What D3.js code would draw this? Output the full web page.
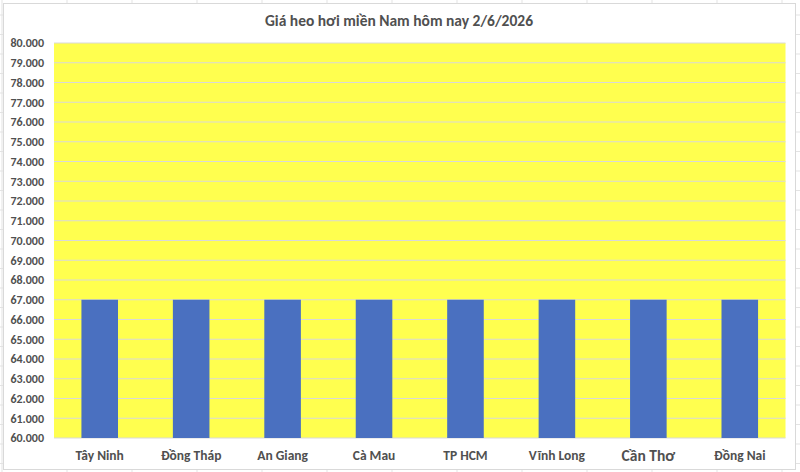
<!DOCTYPE html>
<html><head><meta charset="utf-8">
<script src="https://cdn.jsdelivr.net/npm/d3@7"></script>
<style>body{margin:0;background:#fff}svg{display:block}</style>
</head><body>
<svg id="c" width="800" height="472"></svg>
<script>
const title = "Giá heo hơi miền Nam hôm nay 2/6/2026";
const categories = ["Tây Ninh","Đồng Tháp","An Giang","Cà Mau","TP HCM","Vĩnh Long","Cần Thơ","Đồng Nai"];
const prices = [67000,67000,67000,67000,67000,67000,67000,67000];
const yTicks = d3.range(60000, 80001, 1000);

const svg = d3.select("#c");
const W = 800, H = 472;
const m = {left:54, right:14.5, top:43, bottom:34};
const font = "Carlito, Lato, 'Open Sans', sans-serif";

// spreadsheet background grid
const bg = svg.append("g");
for (let x = 0; x <= W; x += 65) bg.append("line").attr("x1",x+2).attr("x2",x+2).attr("y1",0).attr("y2",H).attr("stroke","#e3e3e3");
for (let y = 15; y <= H; y += 19.5) bg.append("line").attr("x1",0).attr("x2",W).attr("y1",y).attr("y2",y).attr("stroke","#e3e3e3");

// chart frame
svg.append("rect").attr("x",3.5).attr("y",3.5).attr("width",792).attr("height",466).attr("fill","#fff").attr("stroke","#d9d9d9");

const x = d3.scaleBand().domain(categories).range([m.left, W - m.right]).paddingInner(0.6).paddingOuter(0.3);
const y = d3.scaleLinear().domain([60000, 80000]).range([H - m.bottom, m.top]);

// plot area
svg.append("rect").attr("x",m.left).attr("y",m.top).attr("width",W-m.right-m.left).attr("height",H-m.bottom-m.top).attr("fill","#ffff4f");

// gridlines
svg.append("g").selectAll("line").data(yTicks).join("line")
  .attr("x1",m.left).attr("x2",W-m.right)
  .attr("y1",d=>y(d)).attr("y2",d=>y(d))
  .attr("stroke","#d9d9d9").attr("stroke-width",1.2);

// bars
svg.append("g").selectAll("rect").data(prices).join("rect")
  .attr("x",(d,i)=>x(categories[i]))
  .attr("width",x.bandwidth())
  .attr("y",d=>y(d))
  .attr("height",d=>y(60000)-y(d))
  .attr("fill","#4a70c0");

// y axis
const yAxis = d3.axisLeft(y).tickValues(yTicks).tickSize(0).tickPadding(10)
  .tickFormat(v => (v/1000).toFixed(3));
const ya = svg.append("g").attr("transform",`translate(${m.left},0)`).call(yAxis);
ya.select(".domain").remove();
ya.selectAll("text").attr("fill","#505050").attr("font-size","12px").attr("font-weight","bold").attr("font-family",font);

// x axis
const xAxis = d3.axisBottom(x).tickSize(0).tickPadding(12);
const xa = svg.append("g").attr("transform",`translate(0,${H-m.bottom})`).call(xAxis);
xa.select(".domain").remove();
xa.selectAll("text").attr("fill","#505050").attr("font-weight","bold").attr("font-family",font)
  .attr("font-size",d => d==="Cần Thơ" ? "15.5px" : "13.5px");

// title
svg.append("text").attr("x",399).attr("y",26).attr("text-anchor","middle")
  .attr("fill","#505050").attr("font-size","15.5px").attr("font-weight","bold").attr("font-family",font)
  .text(title);
</script>
</body></html>
